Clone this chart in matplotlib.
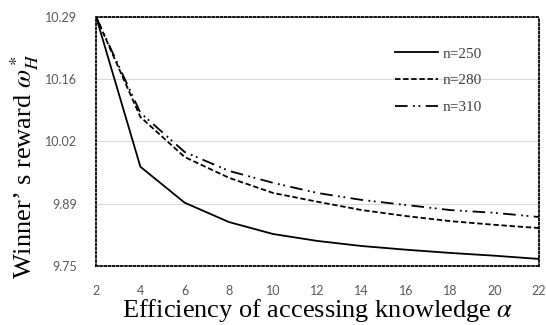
import numpy as np
import matplotlib.pyplot as plt

# data
alpha = [2, 4, 6, 8, 10, 12, 14, 16, 18, 20, 22]
w_250 = [10.29, 9.965, 9.887, 9.845, 9.819, 9.804, 9.793, 9.785, 9.778, 9.772, 9.765]
w_280 = [10.29, 10.073, 9.986, 9.941, 9.908, 9.889, 9.871, 9.858, 9.847, 9.839, 9.832]
w_310 = [10.29, 10.082, 9.997, 9.956, 9.930, 9.908, 9.893, 9.882, 9.871, 9.865, 9.856]
y_ticks = [9.75, 9.885, 10.02, 10.155, 10.29]
y_tick_labels = ['9.75', '9.89', '10.02', '10.16', '10.29']
x_ticks = list(range(2, 23, 2))

plt.rcParams['mathtext.fontset'] = 'stix'

fig = plt.figure(figsize=(5.46, 3.25), dpi=100)
ax = fig.add_axes([0.176, 0.182, 0.811, 0.766])

ax.plot(alpha, w_250, color='black', lw=1.3, ls='-', label='n=250')
ax.plot(alpha, w_280, color='black', lw=1.3, ls=(0, (3, 1.5)), label='n=280')
ax.plot(alpha, w_310, color='black', lw=1.3, ls=(0, (7, 3, 1, 2, 1, 3)), label='n=310')

ax.set_xlim(2, 22)
ax.set_ylim(9.75, 10.29)
ax.set_xticks(x_ticks)
ax.set_yticks(y_ticks)
ax.set_yticklabels(y_tick_labels)
ax.tick_params(length=0, labelsize=9, labelcolor='#595959')
ax.tick_params(axis='x', pad=14)
ax.tick_params(axis='y', pad=14)
for t in ax.get_xticklabels() + ax.get_yticklabels():
    t.set_family('Lato')
ax.grid(axis='y', color='#d9d9d9', lw=0.8)
ax.set_axisbelow(True)
for s in ax.spines.values():
    s.set_linestyle((0, (1, 1.3)))
    s.set_linewidth(1.3)
    s.set_color('black')

ax.set_xlabel(r'Efficiency of accessing knowledge $\alpha$', family='Liberation Serif', fontsize=19)
ax.set_ylabel(r'Winner’ s reward $\omega_H^*$', family='Liberation Serif', fontsize=19)
ax.xaxis.set_label_coords(0.5, -0.125)
ax.yaxis.set_label_coords(-0.125, 0.40)

leg = ax.legend(loc='upper left', bbox_to_anchor=(0.645, 0.935), frameon=False,
                handlelength=2.8, handletextpad=0.3, labelspacing=0.85, prop={'family': 'Liberation Serif', 'size': 11})
for t in leg.get_texts():
    t.set_color('#404040')

fig.savefig('out.png', dpi=100)
